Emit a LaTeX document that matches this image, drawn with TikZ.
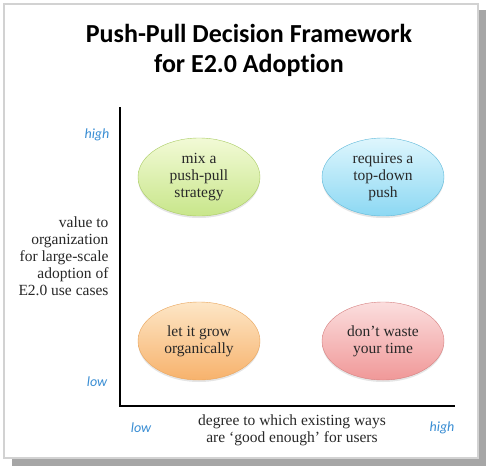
\documentclass[tikz,border=0pt]{standalone}
\usepackage{fontspec}
\setmainfont{Liberation Serif}
\newfontfamily\titlefont[Ligatures=NoCommon]{Carlito}
\usetikzlibrary{shapes.geometric,shadows}
\definecolor{axisblue}{RGB}{58,142,212}
\definecolor{textgray}{RGB}{40,40,40}

\begin{document}
\begin{tikzpicture}[x=1pt,y=-1pt]
      \tikzstyle{quad}=[ellipse,minimum width=122,minimum height=78,inner sep=0pt,align=center,
        text=textgray,font=\fontsize{15.5}{17}\selectfont,
        drop shadow={opacity=.2,shadow xshift=0pt,shadow yshift=-2pt}];
      \tikzstyle{mixball}=[quad,top color={rgb,255:red,242;green,250;blue,214},bottom color={rgb,255:red,200;green,230;blue,138},draw={rgb,255:red,170;green,204;blue,100}];
      \tikzstyle{pushball}=[quad,top color={rgb,255:red,222;green,246;blue,253},bottom color={rgb,255:red,140;green,216;blue,243},draw={rgb,255:red,95;green,185;blue,218}];
      \tikzstyle{growball}=[quad,top color={rgb,255:red,253;green,230;blue,198},bottom color={rgb,255:red,247;green,178;blue,108},draw={rgb,255:red,233;green,165;blue,92}];
      \tikzstyle{wasteball}=[quad,top color={rgb,255:red,251;green,222;blue,222},bottom color={rgb,255:red,240;green,152;blue,152},draw={rgb,255:red,214;green,128;blue,128}];
      \tikzstyle{ticklabel}=[text=axisblue,font=\titlefont\itshape\fontsize{14}{16}\selectfont];
      \tikzstyle{axislabel}=[text=textgray,font=\fontsize{15.5}{17}\selectfont];
      \useasboundingbox (0,0) rectangle (489,471);
      % slide frame with shadow
      \fill[gray!70] (478,10) rectangle (486,466);
      \fill[gray!70] (12,458) rectangle (486,466);
      \fill[white] (4,4) rectangle (478,458);
      \draw[gray!35,line width=1.2pt] (4,4) rectangle (478,458);

      \node[font=\titlefont\bfseries\fontsize{26}{30}\selectfont,align=center] (title) at (249,50)
        {Push-Pull Decision Framework\\for E2.0 Adoption};

      % axes
      \coordinate (ytop) at (120,107);
      \coordinate (origin) at (120,406);
      \coordinate (xend) at (455,406);
      \draw[line width=2pt] (ytop) -- (origin) -- (xend);

      \node[mixball] (mix) at (199,177) {mix a\\push-pull\\strategy};
      \node[pushball] (topdown) at (383,177) {requires a\\top-down\\push};
      \node[growball] (grow) at (199,341) {let it grow\\organically};
      \node[wasteball] (waste) at (383,341) {don't waste\\your time};

      \node[axislabel,anchor=east,align=right] (yname) at (112,256)
        {value to\\organization\\for large-scale\\adoption of\\E2.0 use cases};
      \node[axislabel,align=center] (xname) at (292,430)
        {degree to which existing ways\\are `good enough' for users};
      \node[ticklabel] (yhigh) at (97,135) {high};
      \node[ticklabel] (ylow) at (97,382) {low};
      \node[ticklabel] (xlow) at (141,428) {low};
      \node[ticklabel] (xhigh) at (442,428) {high};
    \end{tikzpicture}
\end{document}
